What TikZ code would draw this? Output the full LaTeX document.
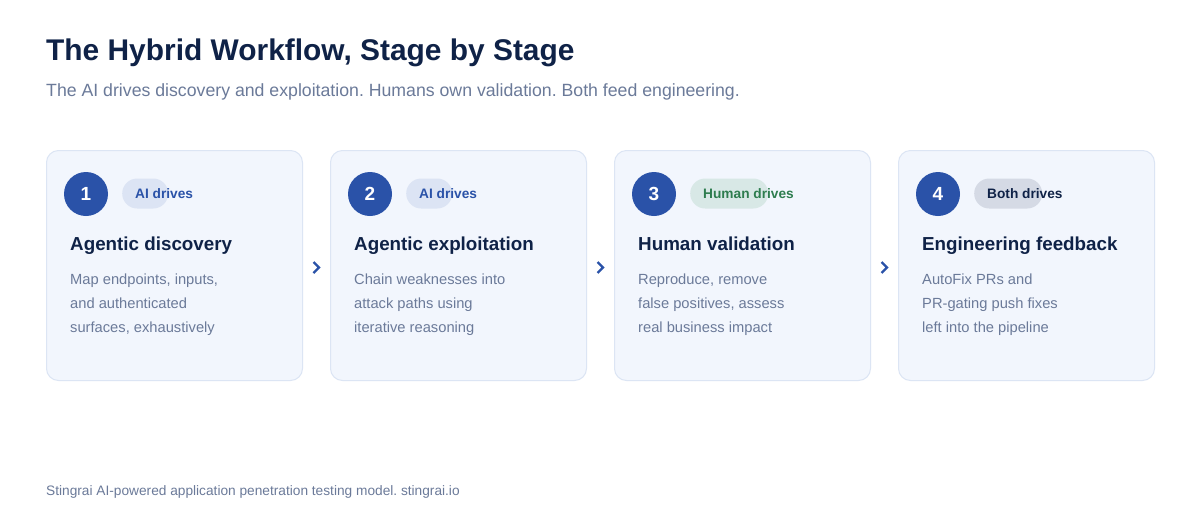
\documentclass[tikz,border=0pt]{standalone}
\usepackage{fontspec}
\setmainfont{Liberation Sans}
\usetikzlibrary{positioning,calc}
\frenchspacing

\definecolor{ink}{HTML}{0F2247}
\definecolor{muted}{HTML}{6B7A99}
\definecolor{cardfill}{HTML}{F2F6FD}
\definecolor{cardline}{HTML}{DCE5F4}
\definecolor{stageblue}{HTML}{2A52A8}
\definecolor{aipill}{HTML}{DCE4F4}
\definecolor{humanpill}{HTML}{D8E8E6}
\definecolor{humantext}{HTML}{2E7D4F}
\definecolor{bothpill}{HTML}{D5DAE5}

\tikzset{
  card/.style={draw=cardline, line width=1pt, fill=cardfill, rounded corners=12pt,
    minimum width=256pt, minimum height=230pt, anchor=north west, inner sep=0pt},
  stagenum/.style={circle, fill=stageblue, minimum size=44pt, inner sep=0pt,
    text=white, font=\bfseries\fontsize{19}{22}\selectfont},
  pill/.style={rounded corners=15pt, minimum height=30pt, inner sep=0pt, anchor=west},
  pilltext/.style={anchor=base west, inner sep=0pt, font=\bfseries\fontsize{13.7}{16}\selectfont},
  cardhead/.style={anchor=base west, inner sep=0pt, text=ink, font=\bfseries\fontsize{18.8}{22}\selectfont},
  cardbody/.style={anchor=base west, inner sep=0pt, text=muted, font=\fontsize{14.7}{17}\selectfont},
  chevron/.style={draw=stageblue, line width=2.2pt, line join=miter}
}

\begin{document}
\begin{tikzpicture}[x=1pt, y=-1pt]
\useasboundingbox[fill=white] (0,0) rectangle (1200,520);
% heading
\node[anchor=base west, inner sep=0pt, text=ink, font=\bfseries\fontsize{29.9}{34}\selectfont]
  (title) at (46,60) {The Hybrid Workflow, Stage by Stage};
\node[anchor=base west, inner sep=0pt, text=muted, font=\fontsize{17.7}{20}\selectfont]
  (subtitle) at (46,96) {The AI drives discovery and exploitation. Humans own validation. Both feed engineering.};
% stages
\foreach \i/\badge/\pillw/\pillcol/\txtcol/\head/\la/\lb/\lc in {
  1/{AI drives}/46/aipill/stageblue/{Agentic discovery}/{Map endpoints, inputs,}/{and authenticated}/{surfaces, exhaustively},
  2/{AI drives}/46/aipill/stageblue/{Agentic exploitation}/{Chain weaknesses into}/{attack paths using}/{iterative reasoning},
  3/{Human drives}/78/humanpill/humantext/{Human validation}/{Reproduce, remove}/{false positives, assess}/{real business impact},
  4/{Both drives}/68/bothpill/ink/{Engineering feedback}/{AutoFix PRs and}/{PR-gating push fixes}/{left into the pipeline}}
{
  \pgfmathsetmacro{\cx}{46+284*(\i-1)}
  \node[card] (card\i) at (\cx,150) {};
  \node[stagenum] (num\i) at (\cx+40,194) {\i};
  \node[pill, fill=\pillcol, minimum width=\pillw pt] (pill\i) at (\cx+76,193.5) {};
  \node[pilltext, text=\txtcol] (badge\i) at (\cx+89,198.5) {\badge};
  \node[cardhead] (head\i) at (\cx+24,250) {\head};
  \node[cardbody] (linea\i) at (\cx+24,284) {\la};
  \node[cardbody] (lineb\i) at (\cx+24,308) {\lb};
  \node[cardbody] (linec\i) at (\cx+24,332) {\lc};
}
% chevrons between stages
\foreach \i/\j in {1/2,2/3,3/4}
{
  \coordinate (gap\i) at ($(card\i.east)!0.5!(card\j.west)+(0,2)$);
  \draw[chevron] ($(gap\i)+(-3,-5.5)$) -- ($(gap\i)+(2.5,0)$) -- ($(gap\i)+(-3,5.5)$);
}
% footer
\node[anchor=base west, inner sep=0pt, text=muted, font=\fontsize{13.7}{15}\selectfont]
  (footer) at (46,495) {Stingrai AI-powered application penetration testing model. stingrai.io};
\end{tikzpicture}
\end{document}
